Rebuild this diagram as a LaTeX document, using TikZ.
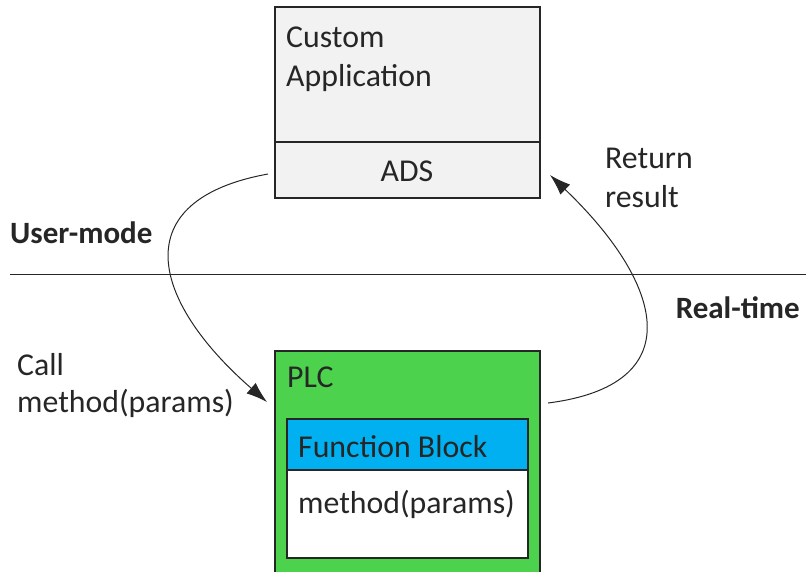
\documentclass[tikz,border=0pt]{standalone}
\usepackage{fontspec}
\setmainfont{Carlito}
\usetikzlibrary{arrows.meta,calc}
\definecolor{boxgray}{HTML}{F2F2F2}
\definecolor{plcgreen}{HTML}{4CD24C}
\definecolor{fbblue}{HTML}{00B0F0}
\definecolor{txt}{HTML}{262626}
\begin{document}
\begin{tikzpicture}[x=1pt,y=-1pt,
  lbl/.style={anchor=base west,inner sep=0pt,text=txt,font=\fontsize{31.8}{38}\selectfont},
  blbl/.style={lbl,font=\fontsize{31}{38}\selectfont\bfseries},
  boxnode/.style={draw=black!85,line width=1.2pt,anchor=north west,inner sep=0pt,outer sep=0pt},
  flow/.style={draw=black!85,line width=1pt,-{Latex[length=21pt,width=14pt]}}]
\useasboundingbox (0,0) rectangle (806,571);
% top box
\node[boxnode,fill=boxgray,minimum width=265pt,minimum height=135pt] (app) at (275,7) {};
\node[boxnode,fill=boxgray,minimum width=265pt,minimum height=56pt] (ads) at (275,142) {};
\node[lbl] (custom) at (286,47) {Custom};
\node[lbl] (application) at (286,86) {Application};
\node[lbl,anchor=base] (adstext) at (407,181) {ADS};
% separator
\coordinate (sepL) at (10,274);
\coordinate (sepR) at (806,274);
\draw[line width=1pt,black!85] (sepL) -- (sepR);
\node[blbl] (user) at (10,243) {User-mode};
\node[blbl,anchor=base east] (rt) at (800,318) {Real-time};
% PLC
\node[boxnode,fill=plcgreen,minimum width=265pt,minimum height=240pt] (plc) at (275,351) {};
\node[lbl] (plctext) at (287,387) {PLC};
\node[boxnode,fill=fbblue,minimum width=241pt,minimum height=51pt] (fb) at (287,419) {};
\node[boxnode,fill=white,minimum width=241pt,minimum height=88pt] (fbbody) at (287,470) {};
\node[lbl] (fbtext) at (298,457) {Function Block};
\node[lbl] (methodtext) at (298,513) {method(params)};
% side labels
\node[lbl] (call) at (17,375) {Call};
\node[lbl] (callm) at (17,412) {method(params)};
\node[lbl] (ret) at (605,168) {Return};
\node[lbl] (res) at (605,207) {result};
% arrows
\draw[flow] ($(ads.west)+(-7,4)$) .. controls (125,200) and (150,300) .. ($(plc.north west)+(-8,51)$);
\draw[flow] ($(plc.north east)+(8,52)$) .. controls (690,385) and (665,285) .. ($(ads.east)+(10,5)$);
\end{tikzpicture}
\end{document}
